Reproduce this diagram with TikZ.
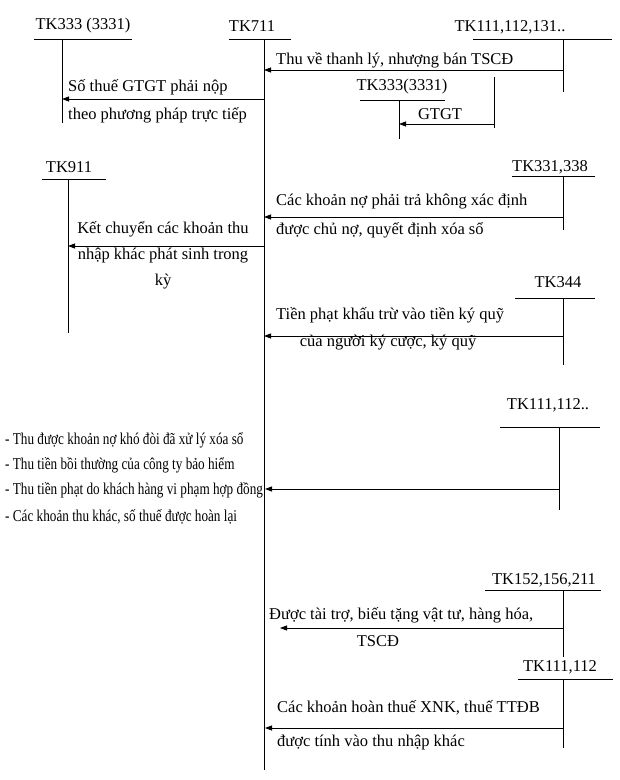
\documentclass[tikz,border=0pt]{standalone}
\usepackage{fontspec}
\setmainfont{Liberation Serif}
\usetikzlibrary{arrows.meta}
\begin{document}
\begin{tikzpicture}[x=1pt,y=-1pt,
  ln/.style={line width=0.8pt,black},
  arr/.style={ln,-{Triangle[length=7pt,width=5pt]}},
  lbl/.style={inner sep=0pt,font=\fontsize{16.5}{18}\selectfont},
  tx/.style={lbl,anchor=west},
  lst/.style={inner sep=0pt,anchor=west,font=\fontsize{16.5}{18}\selectfont}]
\useasboundingbox (0,0) rectangle (620,780);
% ---- accounts (labels)
\node[lbl] (k3331a) at (83,26) {TK333 (3331)};
\node[lbl] (k711) at (252,26) {TK711};
\node[lbl] (k111a) at (510,27) {TK111,112,131..};
\node[lbl] (k3331b) at (402,87) {TK333(3331)};
\node[lbl] (k911) at (69,167) {TK911};
\node[lbl] (k331) at (550,167) {TK331,338};
\node[lbl] (k344) at (558,282) {TK344};
\node[lbl] (k111b) at (548,405) {TK111,112..};
\node[lbl] (k152) at (544,580) {TK152,156,211};
\node[lbl] (k111c) at (560,667) {TK111,112};
% ---- T lines
\coordinate (a1) at (34,39);  \coordinate (a2) at (132,39);
\coordinate (a3) at (62,39);  \coordinate (a4) at (62,123);
\draw[ln] (a1) -- (a2) (a3) -- (a4);
\coordinate (m1) at (229,39); \coordinate (m2) at (291,39);
\coordinate (m3) at (264,39); \coordinate (m4) at (264,770);
\draw[ln] (m1) -- (m2) (m3) -- (m4);
\coordinate (b1) at (473,39); \coordinate (b2) at (612,39);
\coordinate (b3) at (563,39); \coordinate (b4) at (563,92);
\draw[ln] (b1) -- (b2) (b3) -- (b4);
\coordinate (c1) at (360,100); \coordinate (c2) at (445,100);
\coordinate (c3) at (399,100); \coordinate (c4) at (399,139);
\draw[ln] (c1) -- (c2) (c3) -- (c4);
\coordinate (d3) at (494,77); \coordinate (d4) at (494,128);
\draw[ln] (d3) -- (d4);
\coordinate (e1) at (42,179); \coordinate (e2) at (106,179);
\coordinate (e3) at (68,179); \coordinate (e4) at (68,333);
\draw[ln] (e1) -- (e2) (e3) -- (e4);
\coordinate (f1) at (512,176); \coordinate (f2) at (595,176);
\coordinate (f3) at (563,176); \coordinate (f4) at (563,230);
\draw[ln] (f1) -- (f2) (f3) -- (f4);
\coordinate (g1) at (515,298); \coordinate (g2) at (595,298);
\coordinate (g3) at (563,298); \coordinate (g4) at (563,365);
\draw[ln] (g1) -- (g2) (g3) -- (g4);
\coordinate (h1) at (500,427); \coordinate (h2) at (600,427);
\coordinate (h3) at (559,427); \coordinate (h4) at (559,510);
\draw[ln] (h1) -- (h2) (h3) -- (h4);
\coordinate (i1) at (485,590); \coordinate (i2) at (601,590);
\coordinate (i3) at (563,590); \coordinate (i4) at (563,657);
\draw[ln] (i1) -- (i2) (i3) -- (i4);
\coordinate (j1) at (518,679); \coordinate (j2) at (613,679);
\coordinate (j3) at (563,679); \coordinate (j4) at (563,748);
\draw[ln] (j1) -- (j2) (j3) -- (j4);
% ---- arrows
\coordinate (r1s) at (563,70);  \coordinate (r1e) at (264,70);
\draw[arr] (r1s) -- (r1e);
\node[tx] (t1) at (276,60) {Thu về thanh lý, nhượng bán TSCĐ};
\coordinate (r2s) at (494,124); \coordinate (r2e) at (399,124);
\draw[arr] (r2s) -- (r2e);
\node[lbl] (t2) at (440,114) {GTGT};
\coordinate (r3s) at (264,99); \coordinate (r3e) at (62,99);
\draw[arr] (r3s) -- (r3e);
\node[tx] (t3a) at (68,87) {Số thuế GTGT phải nộp};
\node[tx] (t3b) at (68,115) {theo phương pháp trực tiếp};
\coordinate (r4s) at (563,217); \coordinate (r4e) at (264,217);
\draw[arr] (r4s) -- (r4e);
\node[tx] (t4a) at (276,202) {Các khoản nợ phải trả không xác định};
\node[tx] (t4b) at (276,230) {được chủ nợ, quyết định xóa sổ};
\coordinate (r5s) at (264,246); \coordinate (r5e) at (68,246);
\draw[arr] (r5s) -- (r5e);
\node[lbl] (t5a) at (163,229) {Kết chuyển các khoản thu};
\node[lbl] (t5b) at (163,256) {nhập khác phát sinh trong};
\node[lbl] (t5c) at (163,282) {kỳ};
\coordinate (r6s) at (563,336); \coordinate (r6e) at (264,336);
\draw[arr] (r6s) -- (r6e);
\node[tx] (t6a) at (276,315) {Tiền phạt khấu trừ vào tiền ký quỹ};
\node[lbl] (t6b) at (388,343) {của người ký cược, ký quỹ};
\coordinate (r7s) at (559,489); \coordinate (r7e) at (265,489);
\draw[arr] (r7s) -- (r7e);
\node[lst] (l1) at (5,440) {\scalebox{0.8}[1]{- Thu được khoản nợ khó đòi đã xử lý xóa sổ}};
\node[lst] (l2) at (5,465) {\scalebox{0.8}[1]{- Thu tiền bồi thường của công ty bảo hiểm}};
\node[lst] (l3) at (5,490) {\scalebox{0.8}[1]{- Thu tiền phạt do khách hàng vi phạm hợp đồng}};
\node[lst] (l4) at (5,517) {\scalebox{0.8}[1]{- Các khoản thu khác, số thuế được hoàn lại}};
\coordinate (r8s) at (563,628); \coordinate (r8e) at (280,628);
\draw[arr] (r8s) -- (r8e);
\node[tx] (t8a) at (269,615) {Được tài trợ, biếu tặng vật tư, hàng hóa,};
\node[lbl] (t8b) at (378,641) {TSCĐ};
\coordinate (r9s) at (563,728); \coordinate (r9e) at (265,728);
\draw[arr] (r9s) -- (r9e);
\node[tx] (t9a) at (277,708) {Các khoản hoàn thuế XNK, thuế TTĐB};
\node[tx] (t9b) at (277,743) {được tính vào thu nhập khác};
\end{tikzpicture}
\end{document}
